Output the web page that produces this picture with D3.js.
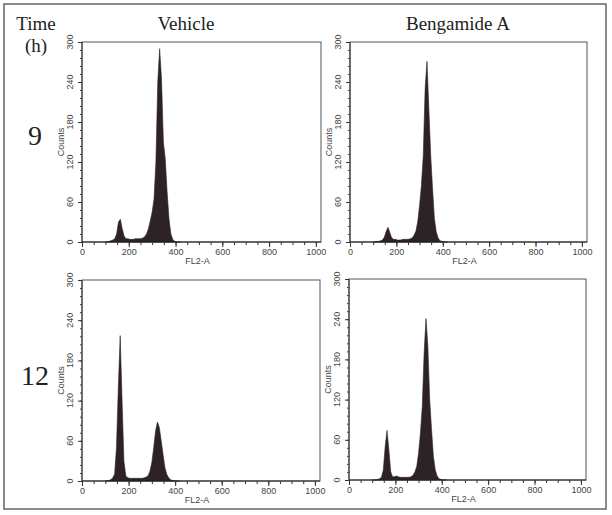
<!DOCTYPE html>
<html><head><meta charset="utf-8">
<script src="https://cdn.jsdelivr.net/npm/d3@7"></script>
<style>body{margin:0;background:#fff}svg{display:block}</style>
</head><body>
<svg id="c" width="612" height="515"></svg>
<script>
// channels (FL2-A) for histogram bins
const channels = [100,108,116,124,132,140,148,156,164,172,180,188,196,204,212,220,228,236,244,252,260,268,276,284,292,300,308,316,324,332,340,348,356,364,372,380,388,396,404,412,420];
// counts per bin
const vehicle9   = [0,0,1,2,3,5,12,30,34,20,9,5,5,4,4,4,5,5,5,5,6,8,12,20,32,45,65,120,240,290,245,150,125,75,35,12,4,1,0,0,0];
const bengamide9 = [0,0,1,1,2,3,7,16,22,14,6,4,4,3,3,3,4,4,4,4,5,6,10,16,30,55,85,130,230,271,200,130,80,35,15,6,2,1,0,0,0];
const vehicle12  = [0,0,1,2,5,10,50,140,217,120,30,8,5,4,4,4,4,4,4,4,4,5,6,8,15,28,50,75,88,80,60,40,20,10,5,2,1,0,0,0,0];
const bengamide12= [0,0,0,1,2,4,15,50,74,45,12,5,5,6,5,4,4,4,4,4,4,5,7,12,20,40,70,110,190,241,200,120,75,35,15,6,2,1,0,0,0];
const columns = ["Vehicle","Bengamide A"];
const rows = ["9","12"];
const yTicks = [0,60,120,180,240,300];
const xTicks = [0,200,400,600,800,1000];

const svg = d3.select("#c");
svg.append("rect").attr("x",4).attr("y",4).attr("width",602).attr("height",505)
  .attr("fill","none").attr("stroke","#666").attr("stroke-width",1.5);

const serif = "'Liberation Serif','Times New Roman',serif";
const sans = "'Liberation Sans Narrow','Arial Narrow','Liberation Sans',Arial,sans-serif";

svg.append("text").attr("x",36).attr("y",30).attr("text-anchor","middle")
  .attr("font-family",serif).attr("font-size",19).attr("fill","#222").text("Time");
svg.append("text").attr("x",36).attr("y",52).attr("text-anchor","middle")
  .attr("font-family",serif).attr("font-size",19).attr("fill","#222").text("(h)");

const panels = [
  {data:vehicle9,   x0:82,  x1:321, y0:42,  y1:242, col:0,row:0},
  {data:bengamide9, x0:350, x1:587, y0:42,  y1:242, col:1,row:0},
  {data:vehicle12,  x0:82,  x1:320, y0:280, y1:481, col:0,row:1},
  {data:bengamide12,x0:349, x1:586, y0:279, y1:480, col:1,row:1}
];
const colCenters = [186, 458];
columns.forEach((c,i)=>{
  svg.append("text").attr("x",colCenters[i]).attr("y",30).attr("text-anchor","middle")
    .attr("font-family",serif).attr("font-size",19).attr("fill","#222").text(c);
});
const rowY = [145, 385];
rows.forEach((r,i)=>{
  svg.append("text").attr("x",35).attr("y",rowY[i]).attr("text-anchor","middle")
    .attr("font-family",serif).attr("font-size",28).attr("fill","#222").text(r);
});

panels.forEach(p=>{
  const x = d3.scaleLinear().domain([0,1022]).range([p.x0,p.x1]);
  const y = d3.scaleLinear().domain([0,300]).range([p.y1,p.y0]);
  const g = svg.append("g");
  // frame
  g.append("rect").attr("x",p.x0).attr("y",p.y0).attr("width",p.x1-p.x0).attr("height",p.y1-p.y0)
    .attr("fill","none").attr("stroke","#555").attr("stroke-width",1);
  // histogram
  const pts = channels.map((c,i)=>({c, v:p.data[i]}));
  const area = d3.area().x(d=>x(d.c)).y0(y(0)).y1(d=>y(d.v)).curve(d3.curveLinear);
  g.append("path").datum(pts).attr("d",area).attr("fill","#2d2228").attr("stroke","#2d2228").attr("stroke-width",0.6);
  // baseline
  g.append("line").attr("x1",p.x0).attr("x2",p.x1).attr("y1",p.y1).attr("y2",p.y1)
    .attr("stroke","#222").attr("stroke-width",1.2);
  g.append("line").attr("x1",p.x0).attr("x2",p.x0).attr("y1",p.y0).attr("y2",p.y1)
    .attr("stroke","#333").attr("stroke-width",1);
  // x axis
  const xa = g.append("g").attr("transform",`translate(0,${p.y1})`)
    .call(d3.axisBottom(x).tickValues(d3.range(0,1001,50)).tickSize(3).tickFormat(""));
  xa.select(".domain").remove();
  xa.selectAll("line").attr("stroke","#333");
  const xb = g.append("g").attr("transform",`translate(0,${p.y1})`)
    .call(d3.axisBottom(x).tickValues(xTicks).tickSize(5).tickPadding(2).tickFormat(d3.format("d")));
  xb.select(".domain").remove();
  xb.selectAll("line").attr("stroke","#333");
  xb.selectAll("text").attr("font-family",sans).attr("font-size",9).attr("fill","#444");
  // y axis
  const ya = g.append("g").attr("transform",`translate(${p.x0},0)`)
    .call(d3.axisLeft(y).tickValues(d3.range(0,301,12)).tickSize(2).tickFormat(""));
  ya.select(".domain").remove();
  ya.selectAll("line").attr("stroke","#444");
  const yb = g.append("g").attr("transform",`translate(${p.x0},0)`)
    .call(d3.axisLeft(y).tickValues(yTicks).tickSize(4).tickFormat(""));
  yb.select(".domain").remove();
  yb.selectAll("line").attr("stroke","#333");
  yTicks.forEach(t=>{
    g.append("text").attr("transform",`translate(${p.x0-9},${y(t)}) rotate(-90)`)
      .attr("text-anchor","middle").attr("font-family",sans).attr("font-size",9).attr("fill","#444").text(t);
  });
  g.append("text").attr("transform",`translate(${p.x0-18},${(p.y0+p.y1)/2}) rotate(-90)`)
    .attr("text-anchor","middle").attr("font-family",sans).attr("font-size",9).attr("fill","#444").text("Counts");
  g.append("text").attr("x",(p.x0+p.x1)/2-4).attr("y",p.y1+22).attr("text-anchor","middle")
    .attr("font-family",sans).attr("font-size",9).attr("fill","#444").text("FL2-A");
});
</script>
</body></html>
